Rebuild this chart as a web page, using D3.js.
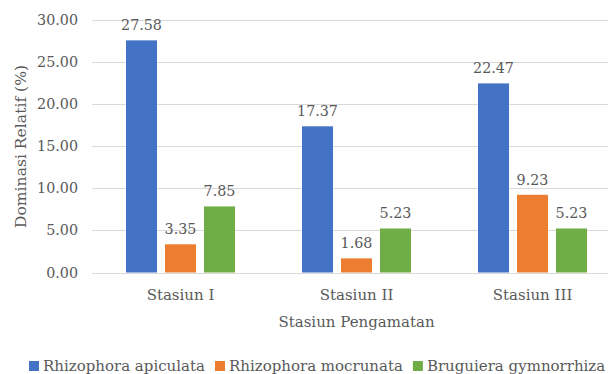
<!DOCTYPE html>
<html><head><meta charset="utf-8">
<script src="https://cdn.jsdelivr.net/npm/d3@7"></script>
<style>body{margin:0;background:#fff}svg{display:block}text{font-family:"DejaVu Serif",serif;fill:#595959}</style>
</head><body><svg id="c" width="608" height="374"></svg>
<script>
const categories = ["Stasiun I", "Stasiun II", "Stasiun III"];
const seriesNames = ["Rhizophora apiculata", "Rhizophora mocrunata", "Bruguiera gymnorrhiza"];
const apiculata = [27.58, 17.37, 22.47];
const mocrunata = [3.35, 1.68, 9.23];
const gymnorrhiza = [7.85, 5.23, 5.23];
const yTicks = [0, 5, 10, 15, 20, 25, 30];
const colors = ["#4472C4", "#ED7D31", "#70AD47"];
const seriesVals = [apiculata, mocrunata, gymnorrhiza];

const svg = d3.select("#c");
const y = d3.scaleLinear().domain([0, 30]).range([272.5, 20]);
const x0 = d3.scaleBand().domain(categories).range([92.5, 620.5]).padding(0);
const x1 = d3.scaleBand().domain(seriesNames).range([0, 109]).paddingInner(8/39).paddingOuter(0);
const groupOff = (x0.bandwidth() - 109) / 2;

// grid
svg.append("g").selectAll("line").data(yTicks).join("line")
  .attr("x1", 92).attr("x2", 608)
  .attr("y1", d => Math.round(y(d)) + 0.5).attr("y2", d => Math.round(y(d)) + 0.5)
  .attr("stroke", "#d9d9d9").attr("stroke-width", 1);

// y axis labels
const yAxis = d3.axisLeft(y).tickValues(yTicks).tickFormat(d3.format(".2f")).tickSize(0).tickPadding(0);
const ga = svg.append("g").attr("transform", "translate(78,0)").call(yAxis);
ga.select(".domain").remove();
ga.selectAll("text").attr("font-size", 14.3).attr("font-family", "DejaVu Serif").attr("fill", "#595959");

// bars
const groups = svg.append("g").selectAll("g").data(categories).join("g")
  .attr("transform", d => `translate(${x0(d) + groupOff},0)`);
groups.each(function(cat, ci) {
  const g = d3.select(this);
  seriesNames.forEach((s, si) => {
    const v = seriesVals[si][ci];
    g.append("rect").attr("x", x1(s)).attr("width", x1.bandwidth())
      .attr("y", y(v)).attr("height", y(0) - y(v)).attr("fill", colors[si]);
    g.append("text").attr("x", x1(s) + x1.bandwidth() / 2).attr("y", y(v) - 10)
      .attr("text-anchor", "middle").attr("font-size", 14.3).text(v.toFixed(2));
  });
});

// x axis labels
const xAxis = d3.axisBottom(x0).tickSize(0).tickPadding(0);
const gx = svg.append("g").attr("transform", "translate(0,295)").call(xAxis);
gx.select(".domain").remove();
gx.selectAll("text").attr("font-size", 15).attr("font-family", "DejaVu Serif").attr("fill", "#595959").attr("dy", "0.32em");

// axis titles
svg.append("text").attr("x", x0("Stasiun II") + x0.bandwidth() / 2).attr("y", 327).attr("text-anchor", "middle").attr("font-size", 15).text("Stasiun Pengamatan");
svg.append("text").attr("transform", "translate(26,146.5) rotate(-90)").attr("text-anchor", "middle").attr("font-size", 15.6).text("Dominasi Relatif (%)");

// legend
let lx = 29;
seriesNames.forEach((s, i) => {
  svg.append("rect").attr("x", lx).attr("y", 361).attr("width", 10).attr("height", 10).attr("fill", colors[i]);
  const t = svg.append("text").attr("x", lx + 14).attr("y", 371).attr("font-size", 15).text(s);
  lx += 14 + t.node().getComputedTextLength() + 10;
});
</script></body></html>
